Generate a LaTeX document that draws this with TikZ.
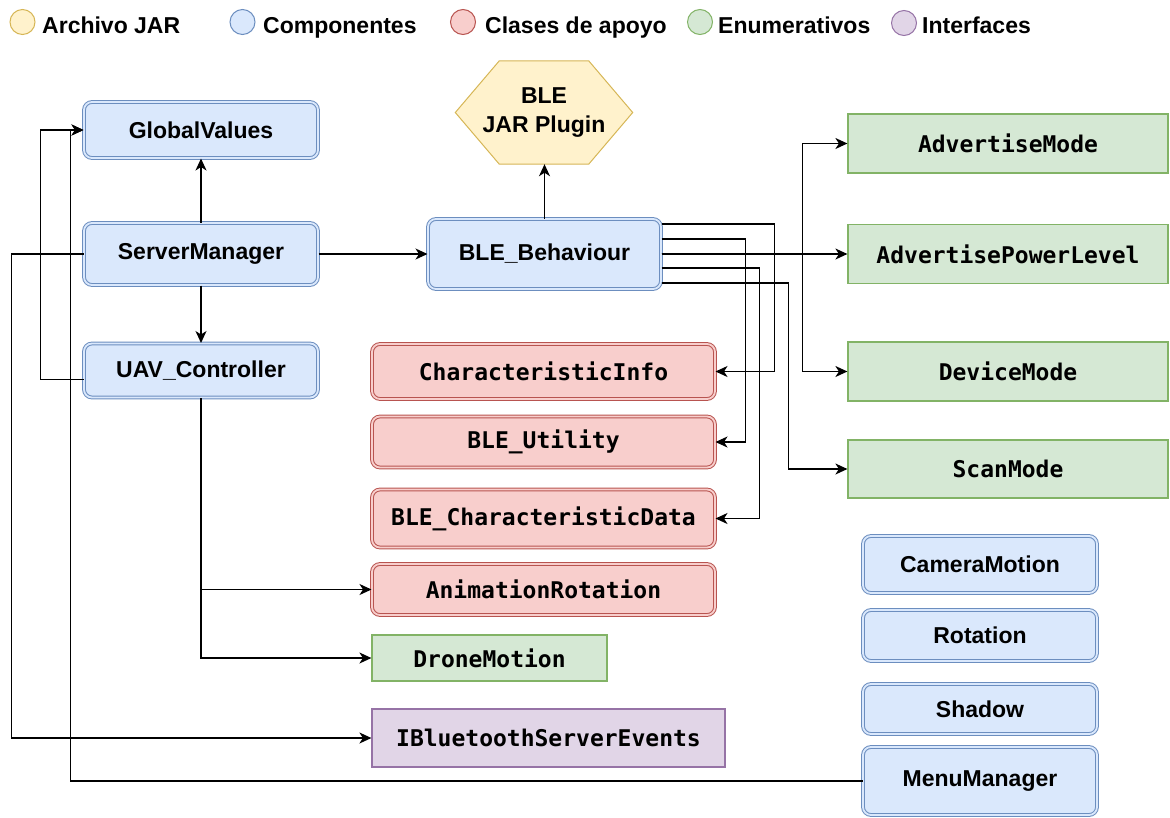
\documentclass[tikz,border=0pt]{standalone}
\usepackage{fontspec}
\setmainfont{Liberation Sans}
\newfontfamily\monof{DejaVu Sans Mono}
\usetikzlibrary{arrows.meta,calc,backgrounds}
\definecolor{bluefill}{HTML}{DAE8FC}\definecolor{bluedraw}{HTML}{6C8EBF}
\definecolor{redfill}{HTML}{F8CECC}\definecolor{reddraw}{HTML}{B85450}
\definecolor{greenfill}{HTML}{D5E8D4}\definecolor{greendraw}{HTML}{82B366}
\definecolor{purplefill}{HTML}{E1D5E7}\definecolor{purpledraw}{HTML}{9673A6}
\definecolor{yellowfill}{HTML}{FFF2CC}\definecolor{yellowdraw}{HTML}{D6B656}
\tikzset{
  sansb/.style={font=\fontsize{23}{29}\selectfont\bfseries},
  monob/.style={font=\monof\fontsize{23}{27}\selectfont\bfseries},
  comp/.style={sansb, rounded corners=8pt, fill=bluefill, draw=bluedraw, double=bluefill, double distance=1.8pt, line width=1pt, minimum width=234pt, inner sep=0pt},
  helper/.style={monob, rounded corners=8pt, fill=redfill, draw=reddraw, double=redfill, double distance=1.8pt, line width=1pt, minimum width=343pt, inner sep=0pt},
  enumbox/.style={monob, fill=greenfill, draw=greendraw, line width=1.2pt, inner sep=0pt},
  ifacebox/.style={monob, fill=purplefill, draw=purpledraw, line width=1.2pt, inner sep=0pt},
  legc/.style={circle, minimum size=25pt, inner sep=0pt, line width=1pt},
  legt/.style={sansb, anchor=base west, inner sep=0pt},
  conn/.style={line width=1.5pt, -{Stealth[length=12pt,width=11pt,inset=3.5pt]}},
}
\begin{document}
\begin{tikzpicture}[x=1pt,y=-1pt]
\useasboundingbox (0,0) rectangle (1170,817);
% legend
\node[legc, fill=yellowfill, draw=yellowdraw] (ly) at (22.5,22) {};
\node[legt] (lyt) at (42,33) {Archivo JAR};
\node[legc, fill=bluefill, draw=bluedraw] (lb) at (242.5,22) {};
\node[legt] (lbt) at (263,33) {Componentes};
\node[legc, fill=redfill, draw=reddraw] (lr) at (463,22) {};
\node[legt] (lrt) at (485,33) {Clases de apoyo};
\node[legc, fill=greenfill, draw=greendraw] (lg) at (700,22) {};
\node[legt] (lgt) at (718,33) {Enumerativos};
\node[legc, fill=purplefill, draw=purpledraw] (lp) at (904,23) {};
\node[legt] (lpt) at (922,33) {Interfaces};

% components
\node[comp, minimum height=56pt] (gv) at (201,130) {GlobalValues};
\node[comp, minimum height=62pt] (sm) at (201,254) {ServerManager};
\node[comp, minimum height=54pt] (uav) at (201,370.5) {UAV\_Controller};
\node[comp, minimum width=233pt, minimum height=70pt] (ble) at (544.5,254) {BLE\_Behaviour};
\node[comp, minimum height=57pt] (cam) at (980,564.5) {CameraMotion};
\node[comp, minimum height=51pt] (rot) at (980,635.5) {Rotation};
\node[comp, minimum height=50pt] (shd) at (980,709) {Shadow};
\node[comp, minimum height=68pt] (menu) at (980,781) {MenuManager};

% jar
\node[sansb, align=center, minimum width=177pt, minimum height=103pt, inner sep=0pt] (jar) at (544,112.5) {BLE\\JAR Plugin};
\begin{scope}[on background layer]
\filldraw[fill=yellowfill, draw=yellowdraw, line width=1pt] (jar.west) -- ($(jar.north west)+(44,0)$) -- ($(jar.north east)+(-44,0)$) -- (jar.east) -- ($(jar.south east)+(-44,0)$) -- ($(jar.south west)+(44,0)$) -- cycle;
\end{scope}

% helper classes
\node[helper, minimum height=55pt] (ci) at (543.5,371.5) {CharacteristicInfo};
\node[helper, minimum height=51pt] (bu) at (543.5,442) {BLE\_Utility};
\node[helper, minimum height=58pt] (bcd) at (543.5,518.5) {BLE\_CharacteristicData};
\node[helper, minimum height=51pt] (ar) at (543.5,589.5) {AnimationRotation};

% enums
\node[enumbox, minimum width=320pt, minimum height=59pt] (am) at (1008,143.5) {AdvertiseMode};
\node[enumbox, minimum width=320pt, minimum height=59pt] (apl) at (1008,254) {AdvertisePowerLevel};
\node[enumbox, minimum width=320pt, minimum height=59pt] (dm) at (1008,371.5) {DeviceMode};
\node[enumbox, minimum width=320pt, minimum height=58pt] (scan) at (1008,469) {ScanMode};
\node[enumbox, minimum width=235pt, minimum height=46pt] (drone) at (489.5,658) {DroneMotion};

% interface
\node[ifacebox, minimum width=353pt, minimum height=58pt] (ibse) at (548.5,738) {IBluetoothServerEvents};

% connectors
\draw[conn] (sm.north) -- (gv.south);
\draw[conn] (sm.south) -- (uav.north);
\draw[conn] (sm.east) -- (ble.west);
\draw[conn] (ble.north) -- (ble.north |- jar.south);
\draw[conn] ([yshift=-9pt]uav.west) -- ++(-43,0) |- (gv.west);
\draw[conn] (menu.west) -- ++(-792,0) |- (gv.west);
\draw[conn] (sm.west) -- ++(-72,0) |- (ibse.west);
\draw[conn] (uav.south) |- (ar.west);
\draw[conn] (uav.south) |- (drone.west);

\draw[conn] ([yshift=30pt]ble.east) -- ++(113,0) |- (ci.east);
\draw[conn] ([yshift=15pt]ble.east) -- ++(84,0) |- (bu.east);
\draw[conn] ([yshift=-14pt]ble.east) -- ++(98,0) |- (bcd.east);
\draw[conn] ([yshift=-29pt]ble.east) -- ++(127,0) |- (scan.west);
\draw[conn] (ble.east) -- (apl.west);
\draw[conn] (ble.east) -- ++(141,0) |- (am.west);
\draw[conn] (ble.east) -- ++(141,0) |- (dm.west);
\draw[line width=2.8pt] ($(ble.east)+(93,0)$) -- ++(48,0);
\end{tikzpicture}
\end{document}
